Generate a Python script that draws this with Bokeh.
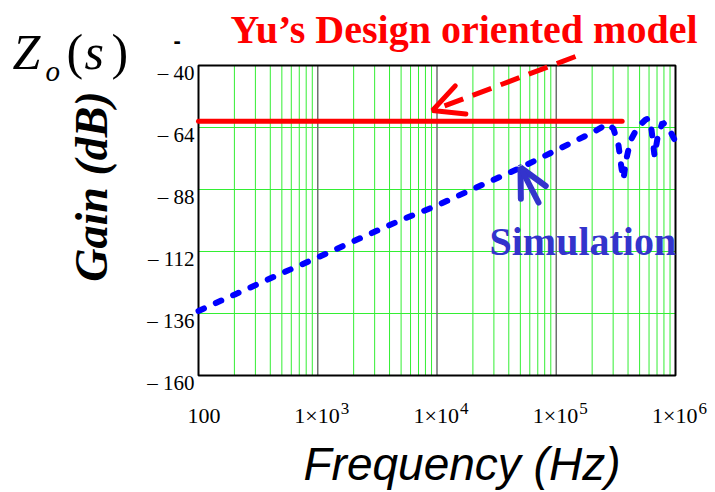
import math

from bokeh.core.properties import value
from bokeh.embed import file_html
from bokeh.models import (Arrow, ColumnDataSource, LabelSet, OpenHead, Range1d)
from bokeh.plotting import figure
from bokeh.resources import INLINE

# Simulated output impedance Zo(s): gain in dB against frequency in Hz
sim_freq = [100, 200, 500, 1e3, 2e3, 5e3, 1e4, 2e4, 5e4, 1e5, 2e5,
            2.69e5, 3.02e5, 3.33e5, 3.53e5, 3.66e5, 3.88e5, 4.2e5, 4.8e5,
            5.6e5, 5.94e5, 6.3e5, 6.67e5, 7.07e5, 7.78e5, 8.73e5, 1e6]
sim_gain = [-135.0, -128.7, -120.4, -114.3, -108.0, -99.8, -94.2, -87.8,
            -79.6, -72.8, -66.0, -62.6, -64.5, -71.0, -80.0, -84.0, -76.0,
            -69.0, -64.0, -61.0, -60.5, -65.0, -75.0, -68.0, -62.0, -64.0,
            -69.5]

# Design-oriented model: flat gain up to where it stops
model_freq = [100, 3.57e5]
model_gain = [-61.6, -61.6]

y_ticks = [-40, -64, -88, -112, -136, -160]
y_tick_labels = ["\u2013 40", "\u2013 64", "\u2013 88", "\u2013 112", "\u2013 136", "\u2013 160"]
x_ticks = [100, 1e3, 1e4, 1e5, 1e6]
x_tick_mantissa = ["100", "1\u00d710", "1\u00d710", "1\u00d710", "1\u00d710"]
x_tick_exponent = ["", "3", "4", "5", "6"]

decades = [1e3, 1e4, 1e5]
minor_freqs = [m * 10 ** k for k in range(2, 6) for m in range(2, 10)]
y_grid = [-64, -88, -112, -136]

W, H = 715, 492
LEFT, RIGHT, TOP, BOTTOM = 198, 675, 65, 375     # plot box on the canvas
F_MIN, F_MAX = 100, 1e6
G_MIN, G_MAX = -160, -40

SERIF = "Liberation Serif"
SANS = "Liberation Sans"
GREEN = "#33ee33"
GREY = "#707070"

# the whole canvas is the drawing frame, so texts and arrows around the
# plot box are not clipped; the ranges are widened to keep the box in place
DEC_PX = (RIGHT - LEFT) / (math.log10(F_MAX) - math.log10(F_MIN))
DB_PX = (BOTTOM - TOP) / (G_MAX - G_MIN)
x_lo = 10 ** (math.log10(F_MIN) - LEFT / DEC_PX)
x_hi = 10 ** (math.log10(F_MAX) + (W - RIGHT) / DEC_PX)
y_lo = G_MIN - (H - BOTTOM) / DB_PX
y_hi = G_MAX + TOP / DB_PX


def at(px, py):
    """Canvas pixel position -> (frequency, gain) in data space."""
    lf = math.log10(F_MIN) + (px - LEFT) / DEC_PX
    g = G_MAX - (py - TOP) / DB_PX
    return 10 ** lf, g


p = figure(width=W, height=H, x_axis_type="log",
           x_range=Range1d(x_lo, x_hi), y_range=Range1d(y_lo, y_hi),
           x_axis_location=None, y_axis_location=None,
           min_border=0, output_backend="svg", toolbar_location=None)
p.background_fill_color = "white"
p.border_fill_color = "white"
p.outline_line_color = None
p.grid.visible = False

# grid: green lines inside each decade and at the gain ticks, grey decade lines
n = len(minor_freqs)
p.segment(x0=minor_freqs, y0=[G_MIN] * n, x1=minor_freqs, y1=[G_MAX] * n,
          line_color=GREEN, line_width=1)
p.segment(x0=[F_MIN] * len(y_grid), y0=y_grid, x1=[F_MAX] * len(y_grid), y1=y_grid,
          line_color=GREEN, line_width=1.2)
p.segment(x0=decades, y0=[G_MIN] * len(decades), x1=decades, y1=[G_MAX] * len(decades),
          line_color=GREY, line_width=1.5)
p.quad(left=[F_MIN], right=[F_MAX], bottom=[G_MIN], top=[G_MAX],
       fill_color=None, line_color="black", line_width=2)

# curves
p.line(sim_freq, sim_gain, line_color="#0000ff", line_width=6,
       line_dash="6 13", line_cap="round")
p.line(model_freq, model_gain, line_color="#ff0000", line_width=5,
       line_cap="round")

# tick labels
ysrc = ColumnDataSource(dict(y=y_ticks, x=[F_MIN] * len(y_ticks), t=y_tick_labels))
p.add_layout(LabelSet(x="x", y="y", text="t", source=ysrc, x_offset=-4, y_offset=-14,
                      text_align="right", text_baseline="alphabetic",
                      text_font=value(SERIF), text_font_size="21px", text_color="black"))
xsrc = ColumnDataSource(dict(x=x_ticks, y=[G_MIN] * len(x_ticks),
                             m=x_tick_mantissa, e=x_tick_exponent))
p.add_layout(LabelSet(x="x", y="y", text="m", source=xsrc, x_offset=22, y_offset=-47,
                      text_align="right", text_baseline="alphabetic",
                      text_font=value(SERIF), text_font_size="22px", text_color="black"))
p.add_layout(LabelSet(x="x", y="y", text="e", source=xsrc, x_offset=23, y_offset=-38,
                      text_align="left", text_baseline="alphabetic",
                      text_font=value(SERIF), text_font_size="17px", text_color="black"))


def label(px, py, text, font=SERIF, size=20, style="normal", color="black",
          align="left", angle=0.0):
    x, y = at(px, py)
    src = ColumnDataSource(dict(x=[x], y=[y], t=[text]))
    p.add_layout(LabelSet(x="x", y="y", text="t", source=src, angle=angle,
                          text_font=value(font), text_font_size=value(f"{size}px"),
                          text_font_style=value(style), text_color=value(color),
                          text_align=value(align), text_baseline=value("alphabetic")))


# axis titles
label(303, 479, "Frequency (Hz)", font=SANS, size=46, style="italic")
label(106, 186, "Gain (dB)", size=46, style="bold italic", align="center",
      angle=math.pi / 2)

# Zo(s)
label(12, 68, "Z", size=50, style="italic")
label(45, 80, "o", size=29, style="italic")
label(66, 68, "(", size=50)
label(84, 68, "s", size=50, style="italic")
label(111, 68, ")", size=50)
label(173, 47, "-", font=SANS, size=22, style="bold")

# annotations
label(230, 42, "Yu\u2019s Design oriented model", size=40, style="bold", color="#ff0000")
label(489, 254, "Simulation", size=40, style="bold", color="#3333cc")

x0, y0 = at(575, 56)
x1, y1 = at(432, 110)
p.add_layout(Arrow(x_start=x0, y_start=y0, x_end=x1, y_end=y1,
                   line_color="#ff0000", line_width=5, line_dash="20 10",
                   end=OpenHead(size=30, line_color="#ff0000", line_width=5,
                                line_cap="round")))
x0, y0 = at(538, 202)
x1, y1 = at(520, 167)
p.add_layout(Arrow(x_start=x0, y_start=y0, x_end=x1, y_end=y1,
                   line_color="#3333cc", line_width=6, line_cap="round",
                   end=OpenHead(size=28, line_color="#3333cc", line_width=6,
                                line_cap="round")))

open("out.html", "w").write(file_html(p, INLINE))
